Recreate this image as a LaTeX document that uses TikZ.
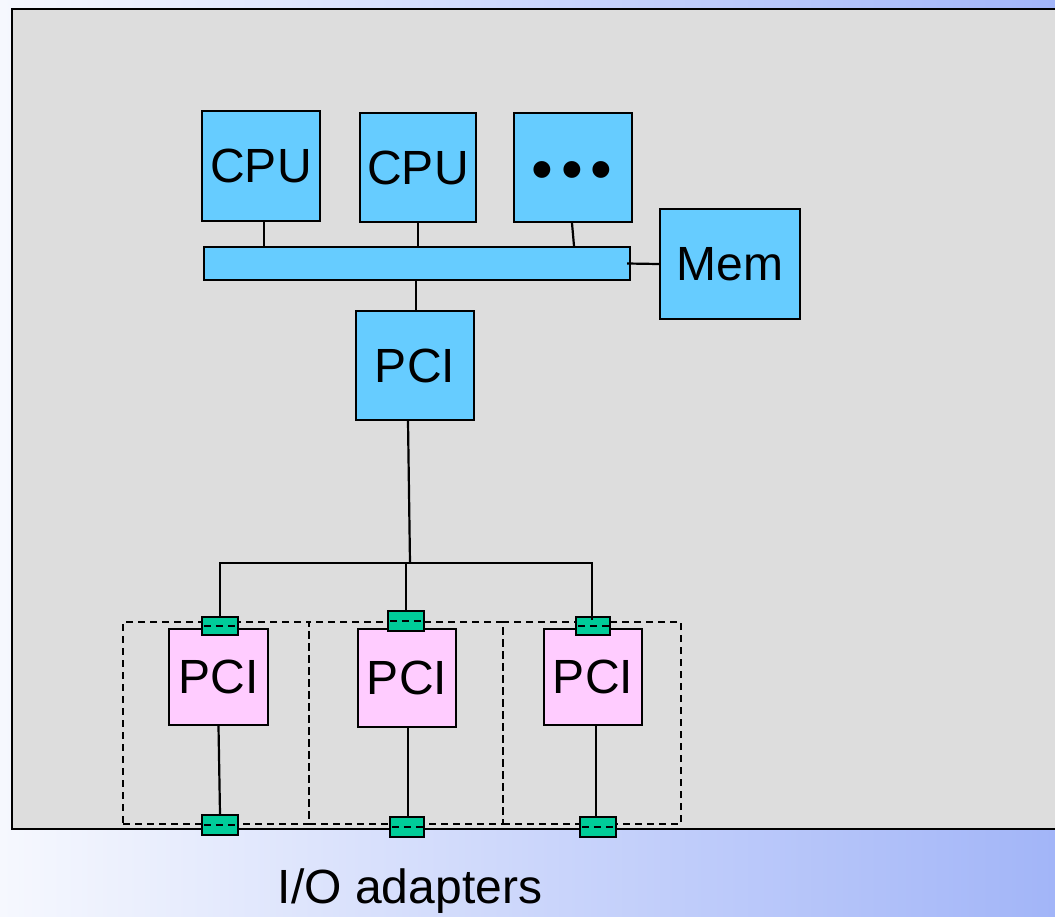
\documentclass[tikz,border=0pt]{standalone}
\usepackage{fontspec}
\setmainfont{Liberation Sans}
\definecolor{panel}{HTML}{DDDDDD}
\definecolor{boxblue}{HTML}{66CCFF}
\definecolor{boxpink}{HTML}{FFCCFF}
\definecolor{boxgreen}{HTML}{00CC99}
\definecolor{bgleft}{HTML}{F6F8FE}
\definecolor{bgright}{HTML}{A2B5F8}
\begin{document}
\begin{tikzpicture}[x=1pt,y=-1pt,
  line width=2.3pt,
  bigtext/.style={font=\fontsize{48}{52}\selectfont},
  bluebox/.style={draw=black, fill=boxblue, inner sep=0pt, bigtext},
  pinkbox/.style={draw=black, fill=boxpink, inner sep=0pt, bigtext},
  greenbox/.style={draw=black, fill=boxgreen, inner sep=0pt},
  slotbox/.style={draw=black, dash pattern=on 7pt off 5pt, inner sep=0pt},
  wire/.style={draw=black, line width=2.2pt}]
\useasboundingbox (0,0) rectangle (1055,916);
\clip (0,0) rectangle (1055,916);
\shade[left color=bgleft, right color=bgright] (0,0) rectangle (1055,916);
\draw[fill=panel] (12,9) rectangle (1070,829);

% dashed adapter slots
\node[slotbox, minimum width=186pt, minimum height=202pt] (s1) at (216,723) {};
\node[slotbox, minimum width=194pt, minimum height=202pt] (s2) at (406,723) {};
\node[slotbox, minimum width=178pt, minimum height=202pt] (s3) at (592,723) {};

% top boxes
\node[bluebox, minimum width=118pt, minimum height=110pt] (cpu1) at (261,166) {CPU};
\node[bluebox, minimum width=116pt, minimum height=109pt] (cpu2) at (418,167.5) {CPU};
\node[bluebox, minimum width=118pt, minimum height=109pt] (dots) at (573,167.5) {};
\node[font=\fontsize{62}{62}\selectfont, inner sep=0pt] (dotstext) at (572,176) {•\hspace{8pt}•\hspace{8pt}•};
\node[bluebox, minimum width=140pt, minimum height=110pt] (mem) at (730,264) {Mem};
\node[bluebox, minimum width=426pt, minimum height=33pt] (bus) at (417,263.5) {};
\node[bluebox, minimum width=118pt, minimum height=109pt] (pci) at (415,365.5) {PCI};

% adapters
\node[pinkbox, minimum width=99pt, minimum height=96pt] (p1) at (218.5,677) {PCI};
\node[pinkbox, minimum width=98pt, minimum height=98pt] (p2) at (407,678) {PCI};
\node[pinkbox, minimum width=98pt, minimum height=96pt] (p3) at (593,677) {PCI};

\node[greenbox, minimum width=36pt, minimum height=18pt] (g1) at (220,626) {};
\node[greenbox, minimum width=36pt, minimum height=20pt] (g2) at (406,621) {};
\node[greenbox, minimum width=34pt, minimum height=18pt] (g3) at (593,626) {};
\node[greenbox, minimum width=36pt, minimum height=20pt] (b1) at (220,825) {};
\node[greenbox, minimum width=34pt, minimum height=20pt] (b2) at (407,827) {};
\node[greenbox, minimum width=36pt, minimum height=20pt] (b3) at (598,827) {};
\foreach \g in {g1,g2,g3,b1,b2,b3}{
  \draw[line width=1.8pt, dash pattern=on 7pt off 5pt] ([xshift=3pt]\g.west) -- (\g.east);
}

% connectors
\draw[wire] ([xshift=3pt]cpu1.south) -- ([xshift=3pt]cpu1.south |- bus.north);
\draw[wire] (cpu2.south) -- (cpu2.south |- bus.north);
\draw[wire] ([xshift=-1pt]dots.south) -- ([xshift=1pt]dots.south |- bus.north);
\draw[wire] ([xshift=-4pt]bus.east) -- (mem.west);
\draw[wire] ([xshift=-1pt]bus.south) -- ([xshift=-1pt]bus.south |- pci.north);
\coordinate (j) at (410,563);
\draw[wire] ([xshift=-7pt]pci.south) -- (j);
\draw[wire] (g1.north) |- (j) -| ([xshift=-1pt,yshift=-4pt]g3.north);
\draw[wire] (g2.north) -- (g2.north |- j);
\draw[wire] (p1.south) -- (b1.north);
\draw[wire] ([xshift=1pt]p2.south) -- ([xshift=1pt]p2.south |- b2.north);
\draw[wire] ([xshift=3pt]p3.south) -- ([xshift=-2pt]b3.north);

\node[bigtext, anchor=base, inner sep=0pt] (lbl) at (410,903) {I/O adapters};
\end{tikzpicture}
\end{document}
